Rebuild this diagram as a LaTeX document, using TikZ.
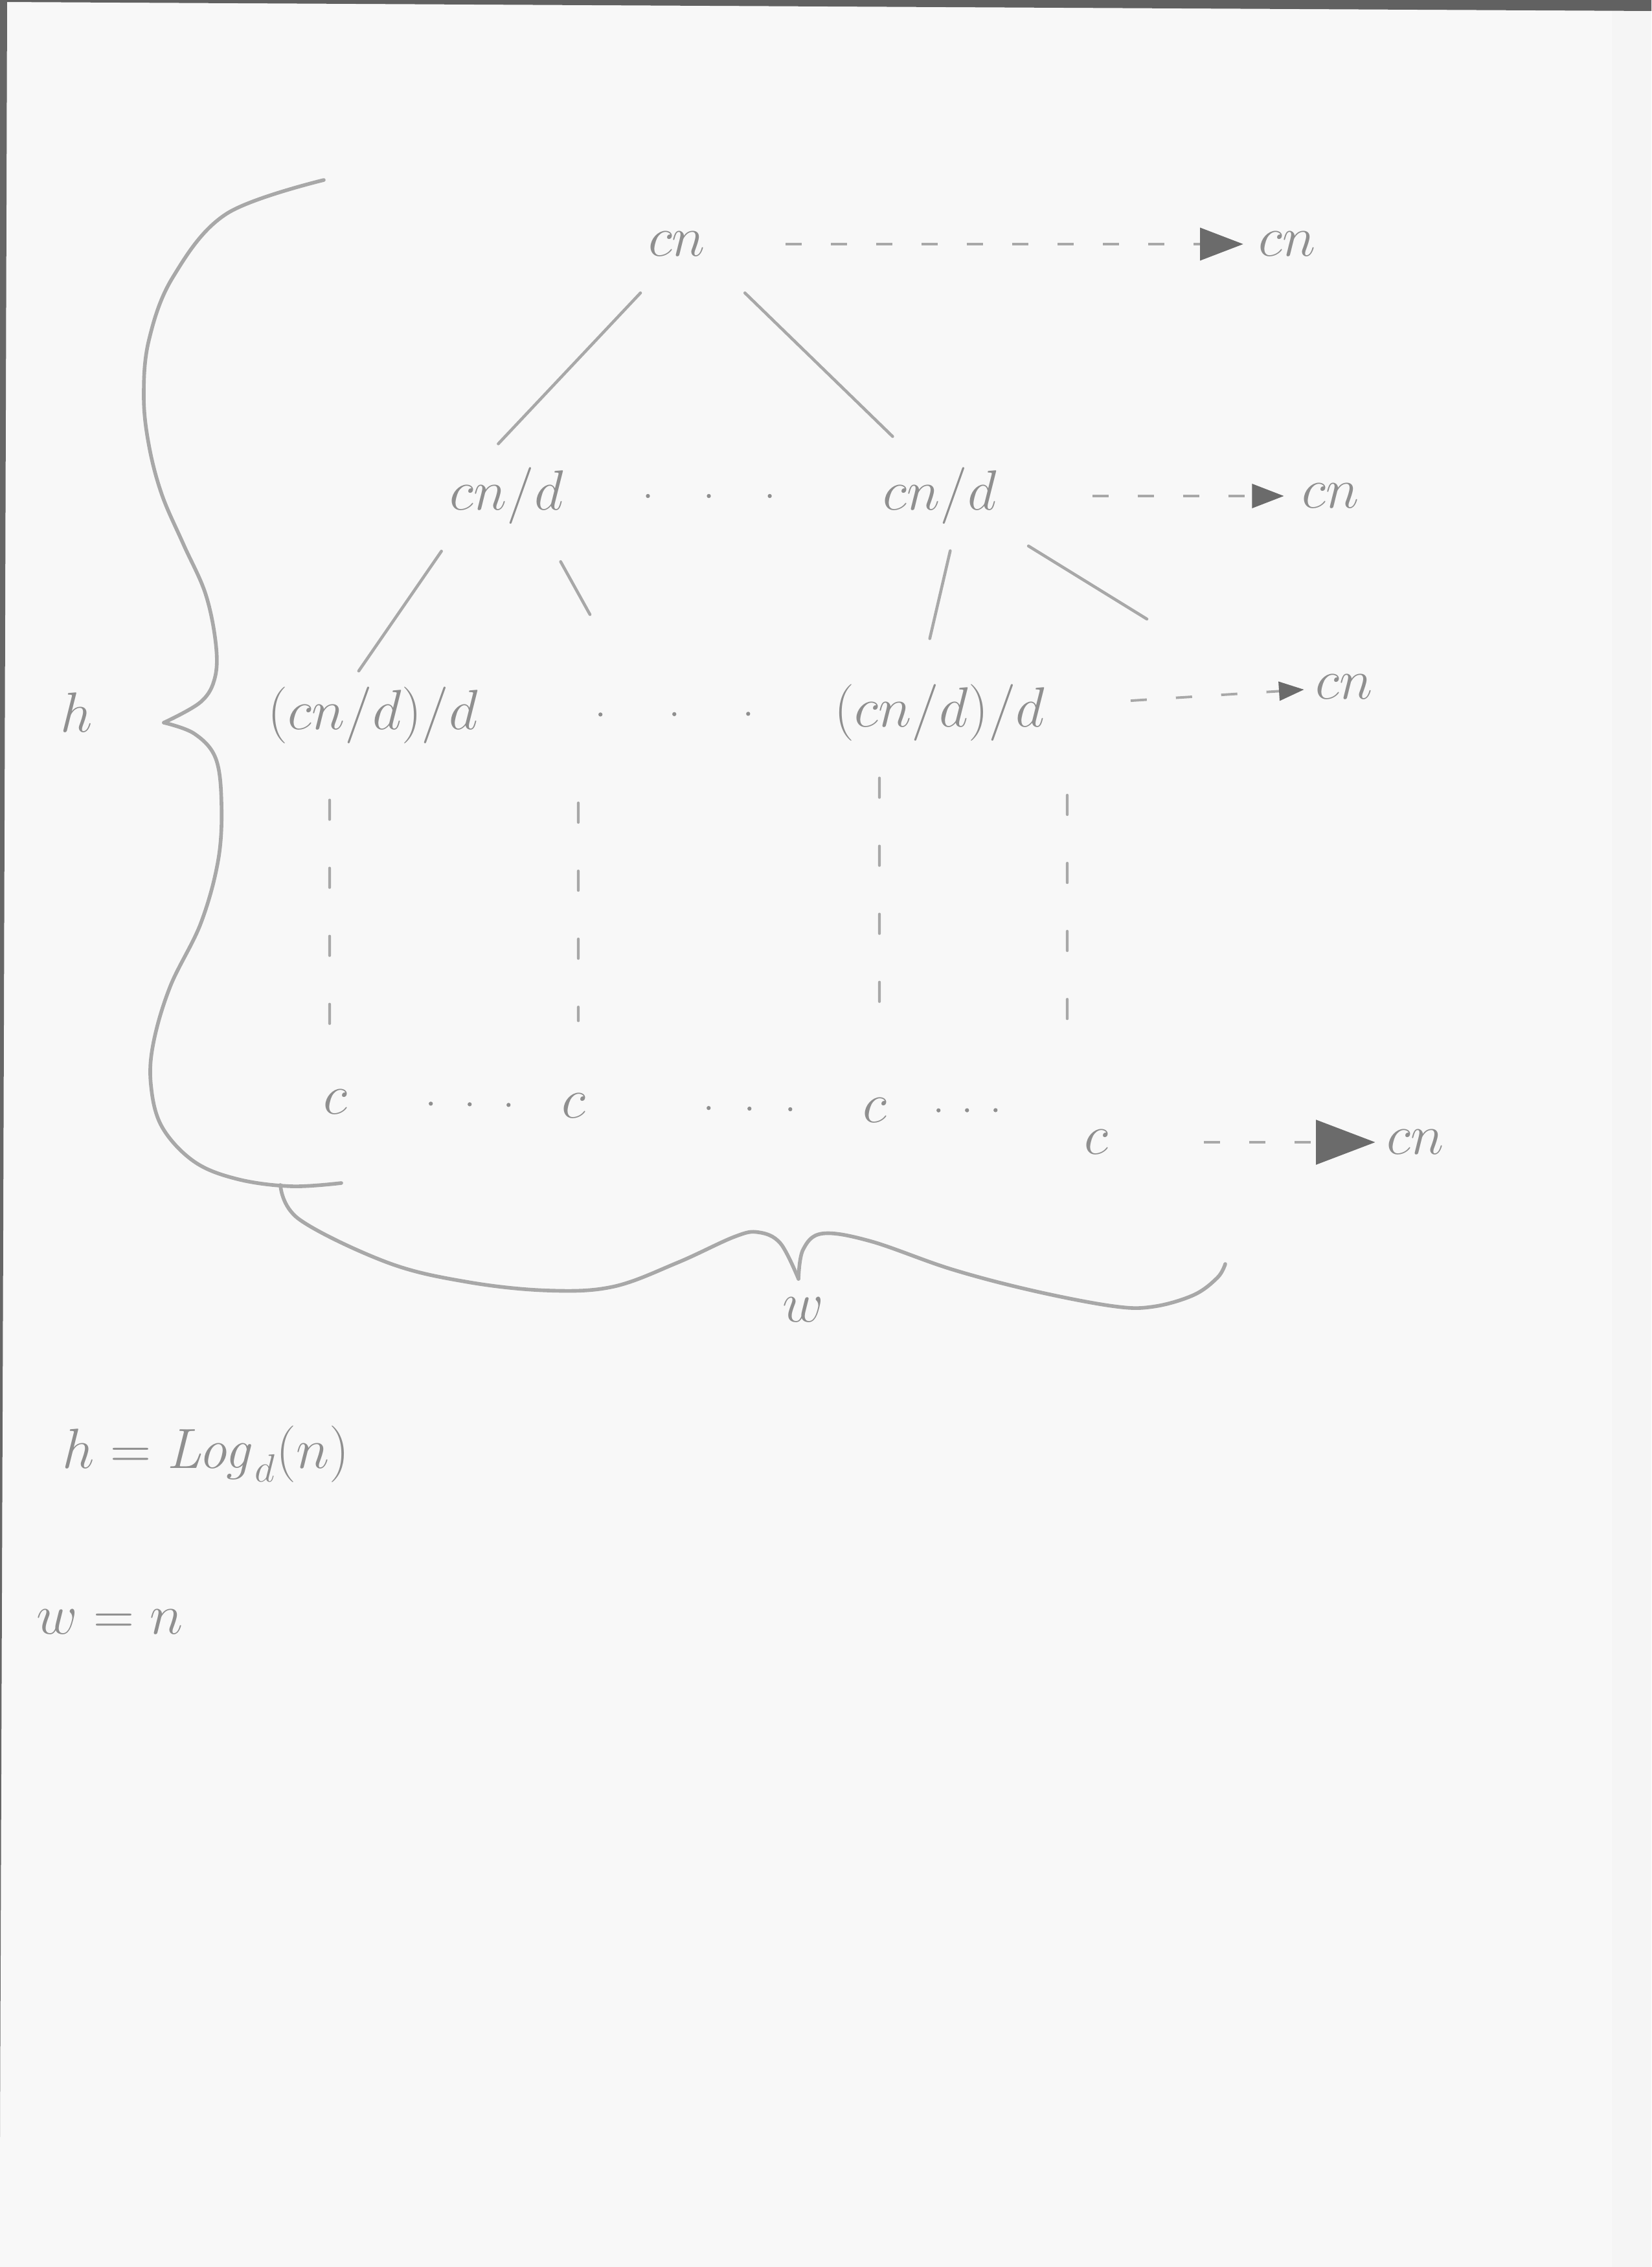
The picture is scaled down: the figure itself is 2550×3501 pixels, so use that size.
\documentclass[tikz,border=0pt]{standalone}
\usepackage{amsmath, amssymb}
\usepackage{tikz}
\usetikzlibrary{arrows.meta}
\usetikzlibrary{positioning}

\definecolor{pencil}{gray}{0.66}
\definecolor{pencilt}{gray}{0.56}
\definecolor{lead}{gray}{0.42}
\definecolor{paper}{gray}{0.972}

\begin{document}
\begin{tikzpicture}[x=0.01cm, y=-0.01cm,
    term/.style={text=pencilt, inner sep=2pt, font=\fontsize{28}{34}\selectfont},
    big/.style={text=pencilt, inner sep=2pt, font=\fontsize{34}{40}\selectfont},
    branch/.style={draw=pencil, line width=1.3pt, line cap=round},
    tail/.style={draw=pencil, line width=1.2pt, line cap=round, dash pattern=on 0.3cm off 0.75cm},
    ellip/.style={draw=pencilt, line width=1.8pt, line cap=round, dash pattern=on 0pt off #1},
    sum/.style={draw=pencil, line width=1.1pt, dash pattern=on 0.25cm off 0.45cm,
        -{Triangle[color=lead, length=#1, width'=0pt .75]}},
    brace/.style={draw=pencil, line width=1.6pt, line cap=round, line join=round}]

    \fill[paper] (0,0) rectangle (2550,3501);
    \fill[gray!8] (2489,0) rectangle (2550,3501);
    \fill[black!62] (0,0) -- (2550,0) -- (2550,17) -- (0,3) -- cycle;
    \fill[black!60] (0,0) -- (11,0) -- (5,1900) -- (0,3300) -- cycle;
    \useasboundingbox (0,0) rectangle (2550,3501);

    \node[term] (cn) at (1045,377) {$cn$};
    \node[term] (da) at (782,766) {$cn/d$};
    \node[term] (db) at (1451,766) {$cn/d$};
    \node[term] (dda) at (576,1105) {$(cn/d)/d$};
    \node[term] (ddb) at (1451,1101) {$(cn/d)/d$};
    \node[term] (ca) at (518,1702) {$c$};
    \node[term] (cb) at (886,1708) {$c$};
    \node[term] (cc) at (1351,1715) {$c$};
    \node[term] (cd) at (1693,1764) {$c$};

    \node[term] (sa) [right of=cn, node distance=9.42cm] {$cn$};
    \node[term] (sb) [right of=db, node distance=6.03cm] {$cn$};
    \node[term] (sc) [right of=ddb, node distance=6.24cm, yshift=0.4cm] {$cn$};
    \node[term] (sd) [right of=cd, node distance=4.92cm] {$cn$};

    \coordinate (da3) at (911,949);
    \coordinate (db3) at (1771,956);
    \coordinate (dd1) at (893,1240);
    \coordinate (dd2) at (1648,1228);

    \path[branch] ([xshift=-0.1cm]cn.south) edge[shorten <=0.67cm, shorten >=0.4cm] ([xshift=-0.4cm]da.north)
          ([xshift=0.55cm]cn.south) edge[shorten <=0.7cm, shorten >=0.58cm] ([xshift=-0.31cm]db.north)
          ([xshift=-0.77cm]da.south) edge[shorten <=0.41cm, shorten >=0.21cm] ([xshift=-0.34cm]dda.north)
          ([xshift=0.56cm]da.south) edge[shorten <=0.57cm] (da3)
          ([xshift=0.24cm]db.south) edge[shorten <=0.34cm, shorten >=0.65cm] ([xshift=-0.3cm]ddb.north)
          (db.south east) edge[shorten <=0.49cm] (db3);

    \path[tail] ([xshift=-0.67cm]dda.south) edge[shorten <=0.79cm, shorten >=0.89cm] ([xshift=-0.09cm]ca.north)
          (dd1) edge[shorten >=1.05cm] ([xshift=0.07cm]cb.north)
          ([xshift=-0.93cm]ddb.south) edge[shorten <=0.49cm, shorten >=1.02cm] ([xshift=0.07cm]cc.north)
          (dd2) edge[shorten >=1.28cm] ([xshift=-0.45cm]cd.north);

    \path (da) edge[ellip=0.94cm, shorten <=1.23cm, shorten >=1.28cm] (db)
          (dda) edge[ellip=1.14cm, shorten <=1.81cm, shorten >=0.6cm] (ddb)
          (ca) edge[ellip=0.6cm, shorten <=1.21cm, shorten >=0.58cm] (cb)
          (cb) edge[ellip=0.63cm, shorten <=1.82cm, shorten >=0.88cm] (cc)
          (cc.east) edge[ellip=0.44cm, shorten <=0.72cm, shorten >=1.15cm] ([yshift=0.5cm]cd.west);

    \path (cn) edge[sum=19pt, shorten <=1.16cm, shorten >=0.16cm] (sa)
          (db) edge[sum=14pt, shorten <=1.4cm, shorten >=0.2cm] (sb)
          (ddb) edge[sum=11pt, shorten <=1.25cm, shorten >=0.1cm] (sc)
          (cd) edge[sum=26pt, shorten <=1.4cm, shorten >=0.1cm] (sd);

    % braces for h and w
    \draw[brace] plot[smooth, tension=0.6] coordinates {(500,278) (350,330) (267,428) (230,525) (222,612)
        (230,688) (250,764) (283,840) (317,916) (333,992) (332,1046) (310,1084) (253,1116)};
    \draw[brace] plot[smooth, tension=0.6] coordinates {(253,1116) (300,1133) (333,1171) (342,1241) (337,1328)
        (310,1426) (263,1523) (237,1610) (233,1675) (250,1740) (300,1794) (367,1821) (450,1832) (527,1827)};
    \draw[brace] plot[smooth, tension=0.6] coordinates {(433,1830) (462,1883) (599,1950) (723,1980) (847,1993)
        (947,1987) (1046,1950) (1134,1910) (1171,1903) (1205,1920) (1233,1975)};
    \draw[brace] plot[smooth, tension=0.6] coordinates {(1233,1975) (1240,1930) (1270,1905) (1345,1917)
        (1469,1960) (1594,1993) (1718,2017) (1780,2018) (1843,2000) (1880,1973) (1892,1952)};

    \node[big] (h) at (118,1100) {$h$};
    \node[term] (w) at (1240,2023) {$w$};
    \node[big, anchor=base west] (hlog) at (89,2267) {$h = \mathit{Log}_{\scriptscriptstyle d}(n)$};
    \node[big, anchor=base west] (wn) at (49,2523) {$w = n$};
\end{tikzpicture}
\end{document}
